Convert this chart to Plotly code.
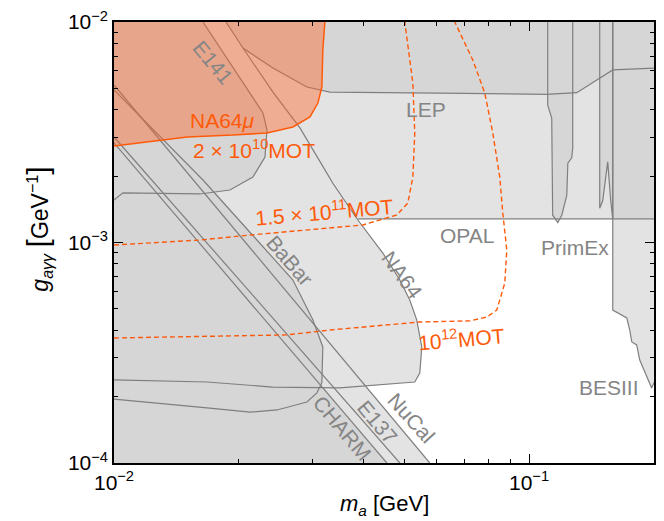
import math
import plotly.graph_objects as go

LIGHT = "#e3e3e3"
DARK = "#d6d6d6"
GLINE = "#7f7f7f"
ORANGE = "#ff5a0a"
ORANGE_FILL = "rgba(255,100,35,0.42)"
TXT_GRAY = "#858585"

# ---------------- data (m_a in GeV, g in GeV^-1) ----------------
opal_x = [0.0387, 0.2, 0.2, 0.0186]
opal_y = [1.28e-3, 1.28e-3, 1e-2, 1e-2]

lep_x = [0.0186, 0.02045, 0.02415, 0.02916, 0.03312, 0.07, 0.11, 0.1303, 0.1591, 0.2, 0.2]
lep_y = [1e-2, 7.62e-3, 6.18e-3, 5.07e-3, 4.81e-3, 4.75e-3, 4.70e-3, 4.78e-3, 6.06e-3, 6.18e-3, 1e-2]

spike1_x = [0.1109, 0.1109, 0.1134, 0.1140, 0.1173, 0.1199, 0.1233, 0.1240, 0.1267, 0.1274, 0.1274]
spike1_y = [1e-2, 4.2e-3, 3.67e-3, 1.33e-3, 1.23e-3, 1.33e-3, 1.64e-3, 2.29e-3, 2.42e-3, 2.68e-3, 1e-2]

spike2_x = [0.148, 0.148, 0.1505, 0.1547, 0.1573, 0.1591, 0.1591]
spike2_y = [1e-2, 1.43e-3, 1.55e-3, 2.32e-3, 1.55e-3, 1.28e-3, 1e-2]

right_x = [0.1591, 0.2, 0.2, 0.1591]
right_y = [1.28e-3, 1.28e-3, 1e-2, 1e-2]

primex_x = [0.1591, 0.1591, 0.172, 0.1748, 0.1768, 0.1817, 0.1848, 0.192, 0.1974, 0.2, 0.2]
primex_y = [1.28e-3, 4.94e-4, 4.55e-4, 4.01e-4, 3.54e-4, 3.43e-4, 2.93e-4, 2.455e-4, 2.19e-4, 2.31e-4, 1.28e-3]

na64_x = [0.01, 0.01861, 0.02045, 0.02415, 0.02805, 0.03367, 0.03869, 0.04444, 0.04883, 0.0516,
          0.05364, 0.05515, 0.05454, 0.05305, 0.035, 0.02415, 0.01675, 0.01]
na64_y = [1e-2, 1e-2, 7.62e-3, 4.81e-3, 3.31e-3, 1.86e-3, 1.265e-3, 8.96e-4, 6.76e-4, 5.48e-4,
          4.45e-4, 3.36e-4, 2.56e-4, 2.33e-4, 2.19e-4, 2.21e-4, 2.33e-4, 2.38e-4]

nucal_x = [0.01, 0.05765, 0.01]
nucal_y = [5.18e-3, 1e-4, 1e-4]
e137_x = [0.01, 0.04883, 0.01]
e137_y = [3.01e-3, 1e-4, 1e-4]
charm_x = [0.01, 0.04544, 0.01]
charm_y = [2.83e-3, 1e-4, 1e-4]

e141_x = [0.01, 0.01638, 0.01934, 0.02161, 0.02285, 0.02336, 0.02311, 0.02161, 0.01902, 0.01611, 0.01051, 0.01]
e141_y = [1e-2, 1e-2, 6.25e-3, 4.57e-3, 3.87e-3, 3.24e-3, 2.44e-3, 1.98e-3, 1.73e-3, 1.66e-3, 1.68e-3, 1.56e-3]

babar_x = [0.01, 0.01638, 0.02698, 0.03015, 0.03185, 0.03168, 0.03082, 0.02916, 0.02469, 0.02126, 0.01675, 0.01]
babar_y = [4.92e-3, 1.92e-3, 6.76e-4, 4.45e-4, 3.36e-4, 2.31e-4, 2.08e-4, 1.89e-4, 1.74e-4, 1.70e-4, 1.78e-4, 1.95e-4]

na64mu_x = [0.01, 0.01155, 0.0150, 0.01934, 0.02336, 0.02698, 0.02965, 0.03099, 0.03168, 0.03185, 0.03221]
na64mu_y = [2.74e-3, 2.83e-3, 3.01e-3, 3.07e-3, 3.14e-3, 3.34e-3, 3.71e-3, 4.29e-3, 5.07e-3, 7.46e-3, 1e-2]

mot15e11_x = [0.01, 0.01611, 0.02126, 0.03312, 0.03978, 0.04802, 0.05104, 0.05248, 0.05305, 0.05248, 0.05104, 0.05019]
mot15e11_y = [9.74e-4, 1.026e-3, 1.081e-3, 1.164e-3, 1.201e-3, 1.333e-3, 1.51e-3, 1.98e-3, 3.14e-3, 5.29e-3, 8.03e-3, 1e-2]

mot1e12_x = [0.01, 0.02609, 0.03312, 0.04067, 0.05454, 0.07197, 0.07909, 0.0836, 0.08501, 0.08741,
             0.08838, 0.08644, 0.08501, 0.08177, 0.07823, 0.07318, 0.06623]
mot1e12_y = [3.69e-4, 3.81e-4, 4.01e-4, 4.14e-4, 4.36e-4, 4.41e-4, 4.59e-4, 4.94e-4, 5.48e-4, 6.55e-4,
             9.25e-4, 1.361e-3, 1.98e-3, 3.14e-3, 4.76e-3, 6.73e-3, 1e-2]

# labels: (text, x, y, angle)
gray_labels = [
    ("E141", 0.01731, 6.52e-3, 50),
    ("LEP", 0.0564, 4.03e-3, 0),
    ("OPAL", 0.0707, 1.081e-3, 0),
    ("PrimEx", 0.1288, 9.54e-4, 0),
    ("BESIII", 0.1556, 2.19e-4, 0),
    ("BaBar", 0.02653, 8.33e-4, 49),
    ("NA64", 0.04965, 7.12e-4, 54),
    ("NuCal", 0.05189, 1.60e-4, 48),
    ("E137", 0.04322, 1.53e-4, 50),
    ("CHARM", 0.0356, 1.44e-4, 50),
]
orange_labels = [
    ("NA64<i>μ</i>", 0.0183, 3.59e-3, 0),
    ("2 × 10<sup>10</sup>MOT", 0.02173, 2.65e-3, 0),
    ("1.5 × 10<sup>11</sup>MOT", 0.03221, 1.39e-3, -5),
    ("10<sup>12</sup>MOT", 0.06887, 3.69e-4, -5),
]

x_major = [0.01, 0.1]
x_major_text = ["10<sup>−2</sup>", "10<sup>−1</sup>"]
y_major = [1e-4, 1e-3, 1e-2]
y_major_text = ["10<sup>−4</sup>", "10<sup>−3</sup>", "10<sup>−2</sup>"]
x_minor = [0.02, 0.03, 0.04, 0.05, 0.06, 0.07, 0.08, 0.09, 0.2]
y_minor = [2e-4, 3e-4, 4e-4, 5e-4, 6e-4, 7e-4, 8e-4, 9e-4, 2e-3, 3e-3, 4e-3, 5e-3, 6e-3, 7e-3, 8e-3, 9e-3]

# ---------------- figure ----------------
fig = go.Figure()


def fill(xs, ys, color):
    fig.add_trace(go.Scatter(x=xs + xs[:1], y=ys + ys[:1], mode="lines", fill="toself",
                             fillcolor=color, line=dict(width=0), hoverinfo="skip", showlegend=False))


def outline(xs, ys, color=GLINE, width=1.2, dash="solid"):
    fig.add_trace(go.Scatter(x=xs, y=ys, mode="lines", line=dict(color=color, width=width, dash=dash),
                             hoverinfo="skip", showlegend=False))


fill(opal_x, opal_y, LIGHT)
fill(lep_x, lep_y, DARK)
fill(spike1_x, spike1_y, DARK)
fill(spike2_x, spike2_y, DARK)
fill(right_x, right_y, DARK)
fill(primex_x, primex_y, LIGHT)
fill(na64_x, na64_y, LIGHT)
fill(nucal_x, nucal_y, LIGHT)
fill(e137_x, e137_y, LIGHT)
fill(charm_x, charm_y, DARK)
fill(e141_x, e141_y, DARK)
fill(babar_x, babar_y, DARK)

outline(opal_x[:2], opal_y[:2])
outline(lep_x[1:-1], lep_y[1:-1])
outline(spike1_x, spike1_y)
outline(spike2_x, spike2_y)
outline(right_x[:1] + right_x[3:], right_y[:1] + right_y[3:])
outline(primex_x[:-1], primex_y[:-1])
outline(na64_x[1:], na64_y[1:])
outline(nucal_x[:2], nucal_y[:2])
outline(e137_x[:2], e137_y[:2])
outline(charm_x[:2], charm_y[:2])
outline(e141_x[1:], e141_y[1:])
outline(babar_x, babar_y)

# NA64mu region
fig.add_trace(go.Scatter(x=na64mu_x + [0.01], y=na64mu_y + [1e-2], mode="lines", fill="toself",
                         fillcolor=ORANGE_FILL, line=dict(width=0), hoverinfo="skip", showlegend=False))
outline(na64mu_x, na64mu_y, color=ORANGE, width=1.5)
outline(mot15e11_x, mot15e11_y, color=ORANGE, width=1.4, dash="5px,3px")
outline(mot1e12_x, mot1e12_y, color=ORANGE, width=1.4, dash="5px,3px")

FONT = "Liberation Sans, Arial, sans-serif"
for t, x, y, a in gray_labels:
    fig.add_annotation(x=math.log10(x), y=math.log10(y), text=t, showarrow=False, textangle=a,
                       font=dict(family=FONT, size=21, color=TXT_GRAY))
for t, x, y, a in orange_labels:
    fig.add_annotation(x=math.log10(x), y=math.log10(y), text=t, showarrow=False, textangle=a,
                       font=dict(family=FONT, size=21, color=ORANGE))

# axis titles
fig.add_annotation(xref="paper", yref="paper", x=0.5, y=-0.095, yanchor="middle", showarrow=False,
                   text="<i>m<sub>a</sub></i> [GeV]", font=dict(family=FONT, size=22, color="black"))
fig.add_annotation(xref="paper", yref="paper", x=-0.14, y=0.53, xanchor="center", yanchor="middle",
                   showarrow=False, textangle=-90,
                   text=("<i>g<sub>aγγ</sub></i> <span style='font-size:30px'>[</span>GeV<sup>−1</sup>"
                         "<span style='font-size:30px'>]</span>"),
                   font=dict(family=FONT, size=23, color="black"))

axis_common = dict(type="log", showline=True, linecolor="black", linewidth=1.5, mirror="ticks",
                   ticks="inside", ticklen=9, tickwidth=1.2, tickcolor="black", showgrid=False,
                   zeroline=False, automargin=False, ticklabeloverflow="allow",
                   tickfont=dict(family=FONT, size=21, color="black"))

fig.update_xaxes(range=[-2, math.log10(0.2)], tickmode="array", tickvals=x_major, ticktext=x_major_text,
                 minor=dict(tickmode="array", tickvals=x_minor, ticks="inside", ticklen=4.5, tickwidth=1.2,
                            tickcolor="black"),
                 **axis_common)
fig.update_yaxes(range=[-4, -2], tickmode="array", tickvals=y_major, ticktext=y_major_text,
                 minor=dict(tickmode="array", tickvals=y_minor, ticks="inside", ticklen=4.5, tickwidth=1.2,
                            tickcolor="black"),
                 **axis_common)

# the page adds an 8px body margin, so the figure is 8px smaller and margins shifted
fig.update_layout(width=656, height=513, margin=dict(l=106, r=10, t=14, b=58),
                  plot_bgcolor="white", paper_bgcolor="white")

fig.write_html("out.html")
